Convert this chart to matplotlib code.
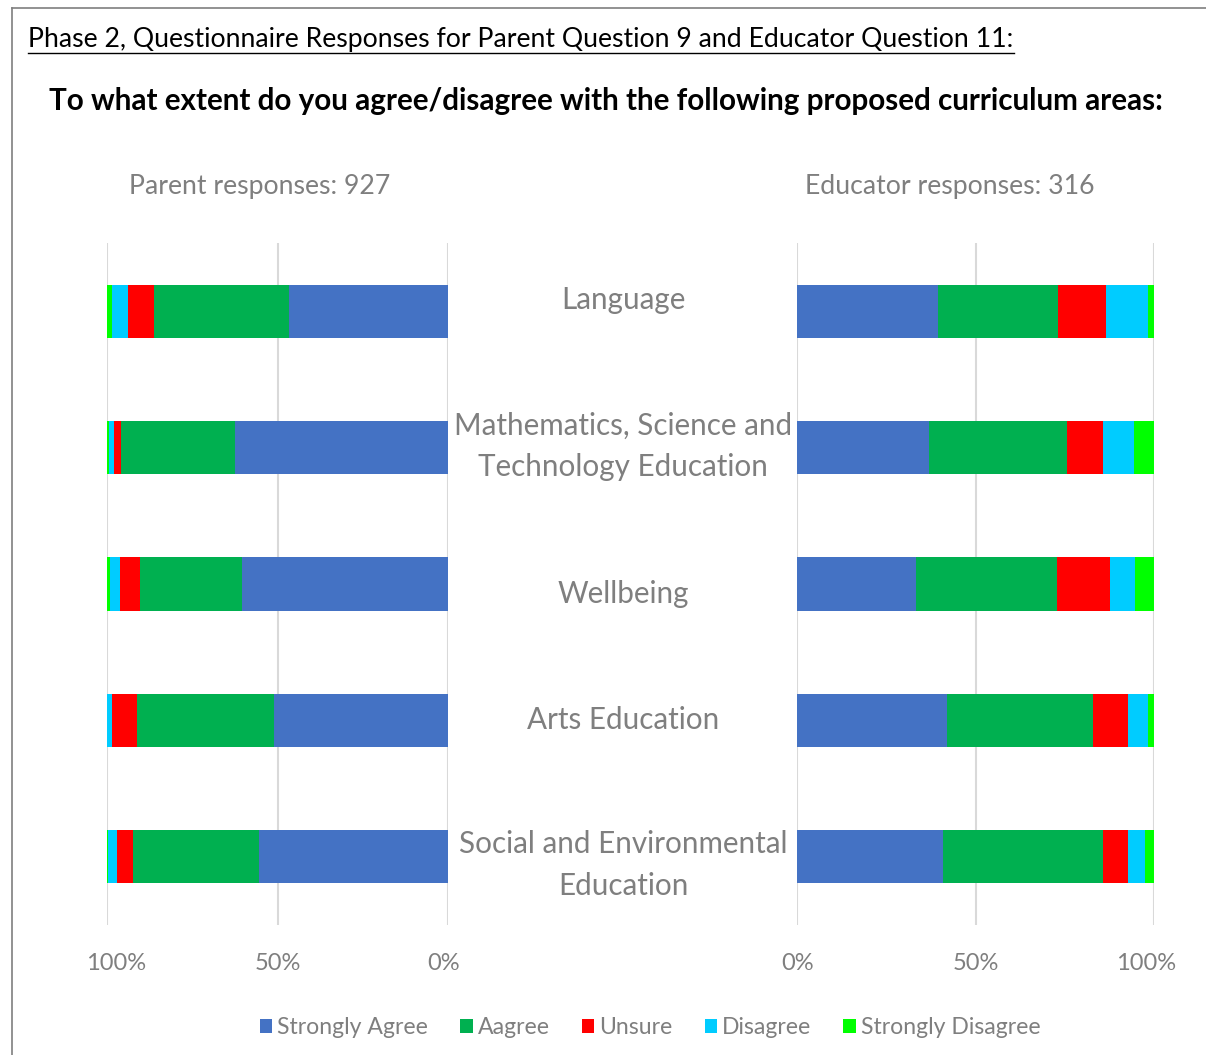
import numpy as np
import matplotlib
matplotlib.use("Agg")
import matplotlib.pyplot as plt
from matplotlib.transforms import blended_transform_factory, ScaledTranslation
from matplotlib.patches import Patch
from matplotlib.lines import Line2D

plt.rcParams["font.family"] = ["Lato", "DejaVu Sans"]

# Datos (porcentajes)
categorias = [
    "Language",
    "Mathematics, Science and\nTechnology Education",
    "Wellbeing",
    "Arts Education",
    "Social and Environmental\nEducation",
]
respuestas = ["Strongly Agree", "Aagree", "Unsure", "Disagree", "Strongly Disagree"]
colores = ["#4472C4", "#00B050", "#FF0000", "#00CCFF", "#00FF00"]

padres_muy_de_acuerdo = [46.5, 62.4, 60.4, 51.1, 55.3]
padres_de_acuerdo = [39.6, 33.4, 29.9, 40.0, 36.9]
padres_inseguro = [7.7, 2.0, 5.7, 7.3, 4.8]
padres_desacuerdo = [4.6, 1.5, 2.9, 1.4, 2.5]
padres_muy_desacuerdo = [1.6, 0.7, 1.1, 0.4, 0.5]

educ_muy_de_acuerdo = [39.3, 36.9, 33.2, 42.0, 40.9]
educ_de_acuerdo = [33.8, 38.7, 39.5, 40.9, 44.6]
educ_inseguro = [13.4, 9.9, 14.8, 9.8, 7.2]
educ_desacuerdo = [11.8, 8.7, 7.2, 5.6, 4.8]
educ_muy_desacuerdo = [1.7, 5.8, 5.3, 1.7, 2.5]

n_padres = 927
n_educ = 316

padres = [padres_muy_de_acuerdo, padres_de_acuerdo, padres_inseguro,
          padres_desacuerdo, padres_muy_desacuerdo]
educadores = [educ_muy_de_acuerdo, educ_de_acuerdo, educ_inseguro,
              educ_desacuerdo, educ_muy_desacuerdo]

W, H = 1206, 1055
fig = plt.figure(figsize=(W / 100, H / 100), dpi=100)

gris = "#7F7F7F"


def dibujar(ax, series):
    y = np.arange(len(categorias))
    base = np.zeros(len(categorias))
    for valores, color in zip(series, colores):
        v = np.array(valores) / 100
        ax.barh(y, v, left=base, height=0.39, color=color, zorder=3)
        base += v
    ax.set_ylim(len(categorias) - 0.5, -0.5)
    ax.set_xticks([0, 0.5, 1])
    ax.set_xticklabels(["0%", "50%", "100%"])
    ax.set_yticks([])
    ax.grid(axis="x", color="#D9D9D9", linewidth=1.5, zorder=0)
    for s in ax.spines.values():
        s.set_visible(False)
    ax.tick_params(axis="x", length=0, pad=20, labelsize=17, labelcolor=gris)


def mover_etiquetas(ax, desplazamientos_px):
    # desplaza horizontalmente las etiquetas del eje x (en píxeles)
    for lab, dx in zip(ax.get_xticklabels(), desplazamientos_px):
        lab.set_transform(lab.get_transform() + ScaledTranslation(dx / 100, 0, fig.dpi_scale_trans))


ax_l = fig.add_axes([106.7 / W, 1 - 925 / H, 341.6 / W, 682 / H])
ax_r = fig.add_axes([797.3 / W, 1 - 925 / H, 357 / W, 682 / H])
dibujar(ax_l, padres)
ax_l.set_xlim(1, 0)
dibujar(ax_r, educadores)
ax_r.set_xlim(0, 1)
mover_etiquetas(ax_l, [-5, 0, 9])
mover_etiquetas(ax_r, [0, 0, -8])

# Etiquetas de categoría en el centro
trans = blended_transform_factory(fig.transFigure, ax_l.transData)
desfase = [-0.08, -0.01, 0.07, 0.0, 0.06]
for i, (cat, d) in enumerate(zip(categorias, desfase)):
    fig.text(623 / W, i + d, cat, transform=trans, ha="center", va="center",
             fontsize=21.3, color=gris, linespacing=1.6)

# Textos superiores
fig.text(28 / W, 1 - 39 / H,
         "Phase 2, Questionnaire Responses for Parent Question 9 and Educator Question 11:",
         fontsize=19.2, color="black", va="center", ha="left")
fig.add_artist(Line2D([28 / W, 1014 / W], [1 - 53 / H, 1 - 53 / H], color="black", linewidth=1))
fig.text(606 / W, 1 - 101 / H,
         "To what extent do you agree/disagree with the following proposed curriculum areas:",
         fontsize=21.3, fontweight="bold", color="black", va="center", ha="center")
fig.text(260 / W, 1 - 187 / H, f"Parent responses: {n_padres}",
         fontsize=19.2, color=gris, va="center", ha="center")
fig.text(950 / W, 1 - 187 / H, f"Educator responses: {n_educ}",
         fontsize=19.2, color=gris, va="center", ha="center")

# Marco
fig.add_artist(Line2D([12 / W, 1], [1 - 8 / H, 1 - 8 / H], color="#7F7F7F", linewidth=1.2))
fig.add_artist(Line2D([12 / W, 12 / W], [0, 1 - 8 / H], color="#7F7F7F", linewidth=1.2))

# Leyenda
handles = [Patch(facecolor=c, label=r) for c, r in zip(colores, respuestas)]
fig.legend(handles=handles, loc="center", bbox_to_anchor=(650 / W, 1 - 1028 / H),
           ncol=5, frameon=False, fontsize=16.6, labelcolor=gris,
           handlelength=0.55, handleheight=0.55, handletextpad=0.2, columnspacing=1.4)

fig.savefig("out.png", dpi=100)
